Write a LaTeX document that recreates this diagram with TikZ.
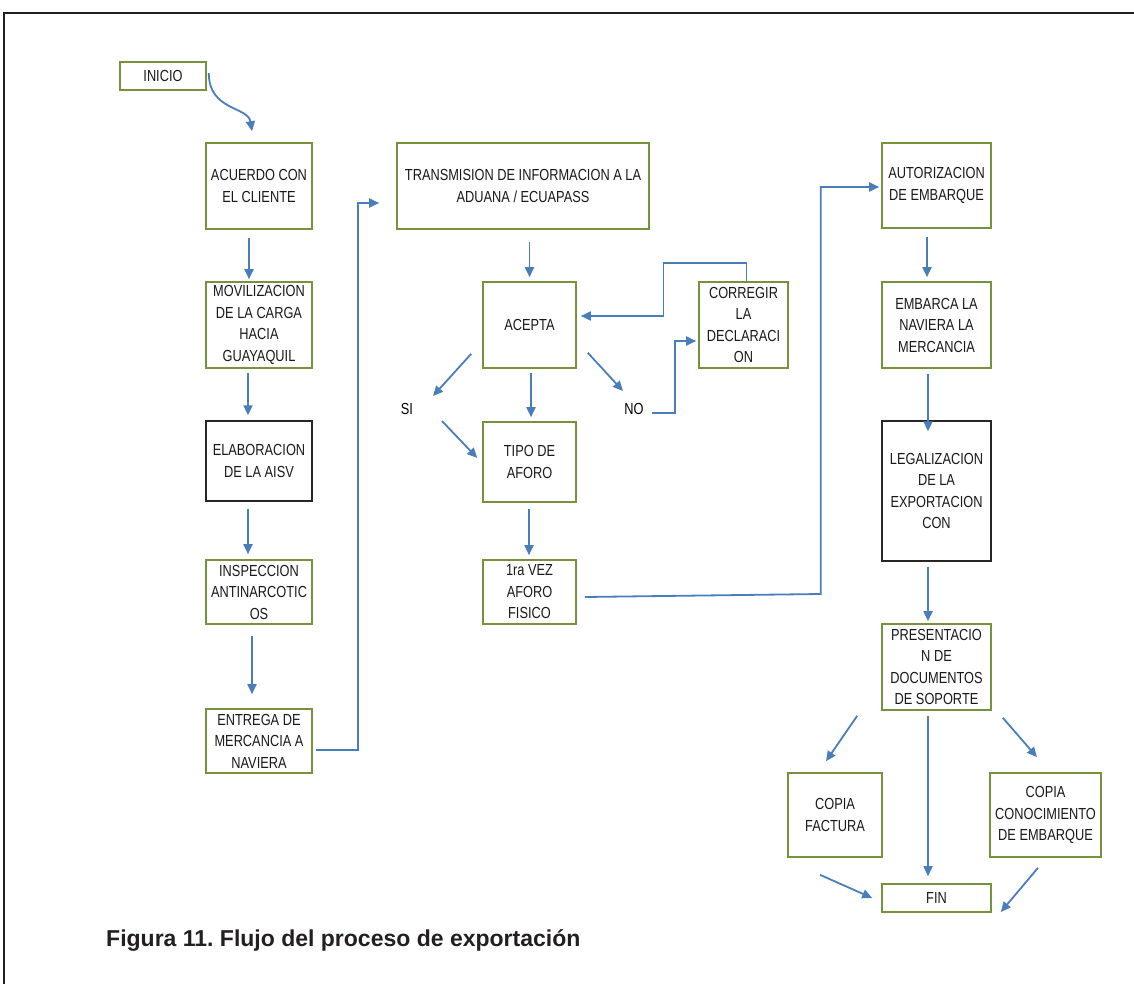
\documentclass[tikz,border=0pt]{standalone}
\usepackage{fontspec}
\setmainfont{Liberation Sans}
\newfontfamily\boxfont[FakeStretch=0.8]{Liberation Sans}
\usepackage{xcolor}
\usepackage{tikz}
\usetikzlibrary{arrows.meta,positioning}
\definecolor{boxgreen}{RGB}{118,146,60}
\definecolor{flowblue}{RGB}{74,126,187}
\definecolor{framegray}{RGB}{35,31,32}

\begin{document}
\begin{tikzpicture}[x=1pt, y=-1pt,
    box/.style={rectangle, draw=boxgreen, line width=1.6pt, text=black!90,
                font=\boxfont\fontsize{16}{21.5}\selectfont, align=center, inner sep=2pt},
    blackbox/.style={box, draw=black!85, line width=1.3pt},
    lbl/.style={font=\boxfont\fontsize{16}{21.5}\selectfont, inner sep=1pt},
    arr/.style={-{Triangle[length=10pt,width=9pt]}, line width=1.8pt, draw=flowblue}
  ]
  \useasboundingbox (0,0) rectangle (1134,984);
  \draw[framegray, line width=2pt] (1134,13) -- (4,13) -- (4,984);

  % first column
  \node[box, minimum width=86pt, minimum height=28pt] (inicio) at (163,76) {INICIO};
  \node[box, minimum width=106pt, minimum height=86pt] (acuerdo) at (259,186) {ACUERDO CON\\EL CLIENTE};
  \node[box, minimum width=106pt, minimum height=86pt] (moviliz) at (259,325) {MOVILIZACION\\DE LA CARGA\\HACIA\\GUAYAQUIL};
  \node[blackbox, minimum width=106pt, minimum height=80pt] (elab) at (259,461) {ELABORACION\\DE LA AISV};
  \node[box, minimum width=106pt, minimum height=64pt] (insp) at (259,592) {INSPECCION\\ANTINARCOTIC\\OS};
  \node[box, minimum width=106pt, minimum height=64pt] (entrega) at (259,741) {ENTREGA DE\\MERCANCIA A\\NAVIERA};

  % second column
  \node[box, minimum width=252pt, minimum height=86pt] (transm) at (523,186) {TRANSMISION DE INFORMACION A LA\\ADUANA / ECUAPASS};
  \node[box, minimum width=93pt, minimum height=86pt] (acepta) at (529.5,325) {ACEPTA};
  \node[box, minimum width=89pt, minimum height=86pt] (corregir) at (743.5,325) {CORREGIR\\LA\\DECLARACI\\ON};
  \node[lbl] (si) at (407,409) {SI};
  \node[lbl] (no) at (634,409) {NO};
  \node[box, minimum width=93pt, minimum height=80pt] (tipo) at (529.5,462) {TIPO DE\\AFORO};
  \node[box, minimum width=93pt, minimum height=64pt] (vez) at (529.5,592) {1ra VEZ\\AFORO\\FISICO};

  % third column
  \node[box, minimum width=109pt, minimum height=85pt] (autoriz) at (936.5,185.5) {AUTORIZACION\\DE EMBARQUE};
  \node[box, minimum width=109pt, minimum height=86pt] (embarca) at (936.5,325) {EMBARCA LA\\NAVIERA LA\\MERCANCIA};
  \node[blackbox, minimum width=109pt, minimum height=140pt] (legal) at (936.5,491) {LEGALIZACION\\DE LA\\EXPORTACION\\CON};
  \node[box, minimum width=109pt, minimum height=86pt] (present) at (936.5,667) {PRESENTACIO\\N DE\\DOCUMENTOS\\DE SOPORTE};
  \node[box, minimum width=94pt, minimum height=84pt] (factura) at (835,815) {COPIA\\FACTURA};
  \node[box, minimum width=111pt, minimum height=84pt] (conoc) at (1045.5,815) {COPIA\\CONOCIMIENTO\\DE EMBARQUE};
  \node[box, minimum width=109pt, minimum height=28pt] (fin) at (936.5,898) {FIN};

  \node[anchor=base west, font=\bfseries\fontsize{23}{28}\selectfont, text=framegray, inner sep=0pt]
    (caption) at (106,946) {Figura 11.\ Flujo del proceso de exportación};

  % straight arrows down
  \foreach \a/\b/\dx/\s/\e in {acuerdo/moviliz/-10pt/8pt/2pt, moviliz/elab/-11pt/4pt/5pt,
      elab/insp/-11pt/7pt/5pt, insp/entrega/-7pt/11pt/14pt,
      acepta/tipo/1.5pt/4pt/4pt, tipo/vez/-0.5pt/6pt/4pt,
      autoriz/embarca/-9.5pt/8pt/4pt, embarca/legal/-8.5pt/5pt/-11pt,
      legal/present/-8.5pt/5pt/2pt, present/fin/-8.5pt/5pt/7pt}
    \draw[arr, shorten <=\s, shorten >=\e] ([xshift=\dx]\a.south) -- ([xshift=\dx]\b.north);
  \draw[arr, shorten <=12pt, shorten >=4pt] (acepta.north |- transm.south) -- (acepta.north);

  \draw[arr] ([xshift=2pt,yshift=3pt]inicio.east) .. controls +(0,-38pt) and +(-4pt,25pt) .. ([xshift=-7pt,yshift=11pt]acuerdo.north);
  \draw[arr] ([xshift=3pt,yshift=-9pt]entrega.east) -- ++(42,0) |- ([xshift=-17pt,yshift=-17pt]transm.west);

  % decision
  \draw[arr] ([xshift=-11pt,yshift=15pt]acepta.south west) -- ([xshift=26pt,yshift=13pt]si.center);
  \draw[arr] ([xshift=35pt,yshift=-12pt]si.center) -- ([xshift=-5pt,yshift=4pt]tipo.west);
  \draw[arr] ([xshift=11pt,yshift=16pt]acepta.south east) -- ([xshift=-11pt,yshift=18pt]no.center);
  \draw[arr] ([xshift=18pt,yshift=-4pt]no.center) -- ++(23,0) |- ([xshift=-2pt,yshift=-16pt]corregir.west);
  \draw[arr] ([xshift=3pt]corregir.north) |- ++(-83,-18) |- ([xshift=4pt,yshift=9pt]acepta.east);
  \draw[arr] ([xshift=8pt,yshift=-5pt]vez.east) -- ++(236,-3) |- ([xshift=-2pt,yshift=-1.5pt]autoriz.west);

  % documents
  \draw[arr] ([xshift=-24pt,yshift=-5pt]present.south west) -- ([xshift=-9pt,yshift=11pt]factura.north);
  \draw[arr] ([xshift=11pt,yshift=-7pt]present.south east) -- ([xshift=-8.5pt,yshift=15pt]conoc.north);
  \draw[arr] ([xshift=-15pt,yshift=-17pt]factura.south) -- ([xshift=-9pt]fin.west);
  \draw[arr] ([xshift=-7.5pt,yshift=-10pt]conoc.south) -- ([xshift=9pt,yshift=-14pt]fin.east);
\end{tikzpicture}
\end{document}
